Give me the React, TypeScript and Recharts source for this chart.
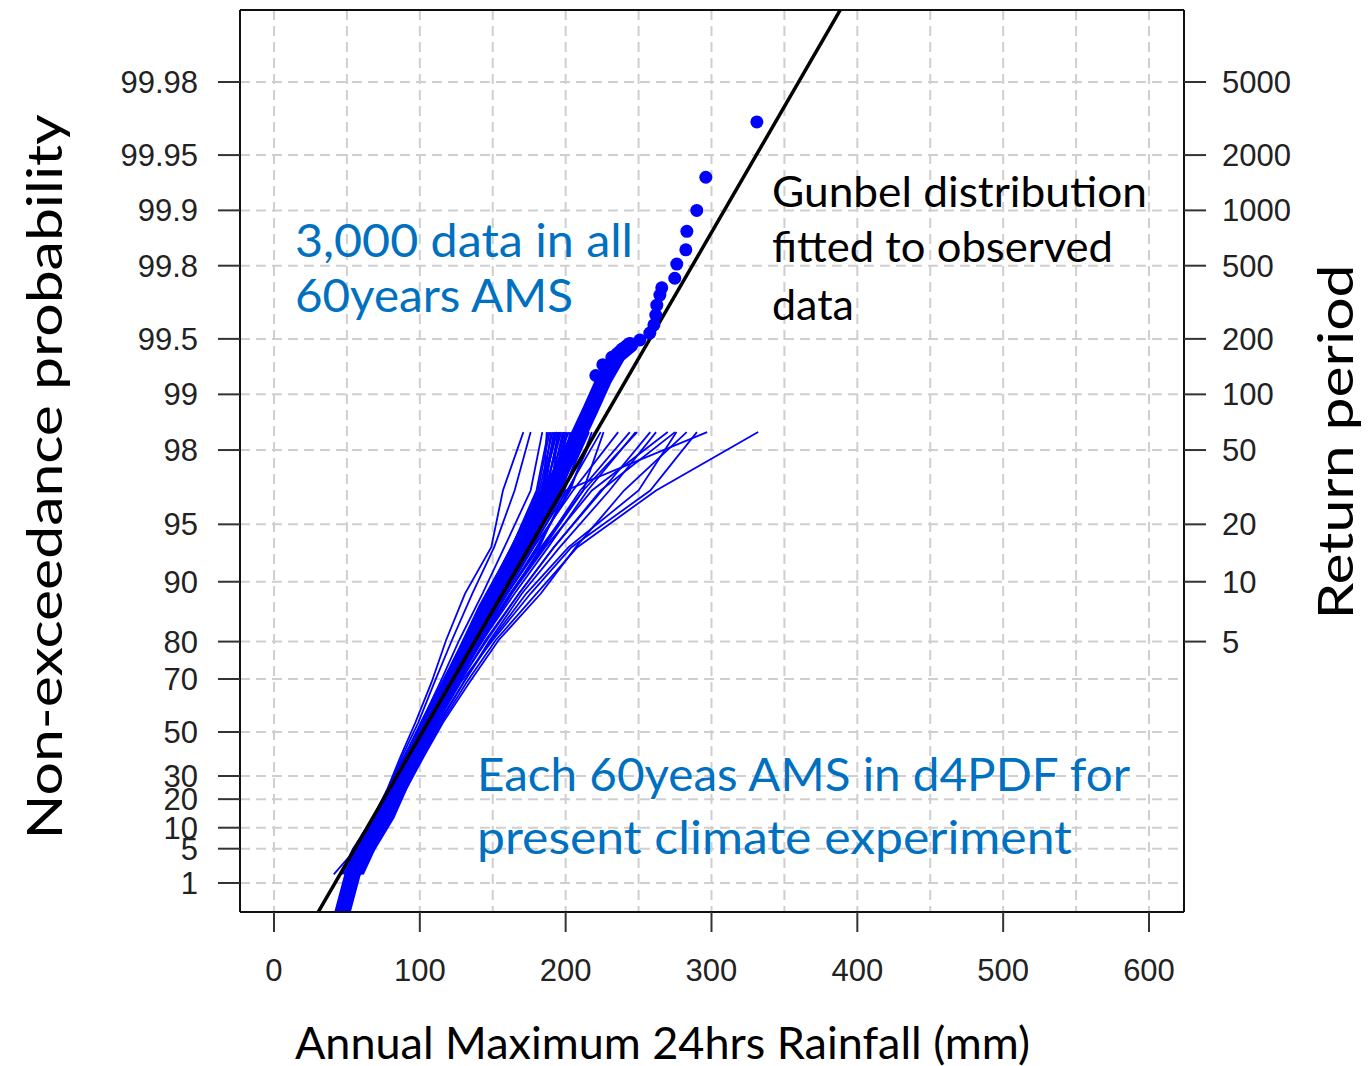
import React from 'react';
import { ComposedChart, Line, Scatter, XAxis, YAxis, CartesianGrid, ReferenceLine } from 'recharts';

// probability paper: non-exceedance % (left) and return period in years (right)
const probTicks = [1, 5, 10, 20, 30, 50, 70, 80, 90, 95, 98, 99, 99.5, 99.8, 99.9, 99.95, 99.98];
const returnTicks = [5, 10, 20, 50, 100, 200, 500, 1000, 2000, 5000];
const rainTicks = [0, 100, 200, 300, 400, 500, 600];
const rainGrid = [0, 50, 100, 150, 200, 250, 300, 350, 400, 450, 500, 550, 600];

// plotting positions (%) shared by every 60-year AMS member
const amsProbs = [1.6, 4.9, 13.1, 24.6, 39.3, 54.1, 68.9, 80.3, 88.5, 93.4, 96.7, 98.4];

// rainfall (mm) of each d4PDF member at those positions
const amsMembers = [
  [52, 60, 72, 82, 92, 104, 118, 132, 150, 168, 184, 190],
  [55, 62, 75, 84, 95, 107, 121, 136, 155, 174, 190, 195],
  [48, 57, 70, 80, 90, 101, 114, 127, 143, 158, 176, 184],
  [58, 66, 79, 88, 99, 111, 126, 142, 162, 185, 212, 226],
  [50, 59, 73, 83, 94, 106, 120, 137, 158, 178, 205, 236],
  [56, 64, 77, 86, 97, 109, 123, 139, 158, 177, 196, 203],
  [53, 61, 74, 84, 94, 105, 119, 134, 152, 170, 189, 198],
  [60, 68, 81, 90, 101, 113, 130, 148, 170, 196, 230, 262],
  [46, 54, 68, 78, 87, 97, 108, 118, 131, 149, 157, 171],
  [54, 63, 76, 86, 97, 110, 127, 146, 168, 192, 224, 275],
  [57, 65, 78, 87, 97, 108, 121, 135, 153, 172, 192, 200],
  [51, 60, 73, 83, 94, 106, 122, 140, 160, 181, 202, 220],
  [41, 56, 71, 81, 91, 102, 116, 131, 149, 166, 186, 196],
  [59, 67, 80, 89, 100, 112, 128, 150, 176, 204, 258, 290],
  [55, 63, 76, 85, 96, 108, 124, 143, 165, 188, 215, 248],
  [47, 55, 69, 79, 88, 99, 110, 122, 136, 151, 165, 176],
  [56, 64, 77, 86, 96, 107, 119, 133, 150, 168, 186, 192],
  [52, 61, 74, 84, 95, 107, 123, 141, 162, 184, 210, 244],
  [61, 69, 82, 91, 102, 115, 132, 152, 180, 208, 262, 332],
  [54, 62, 75, 85, 95, 106, 120, 135, 153, 172, 192, 201],
  [50, 58, 72, 82, 92, 104, 117, 132, 150, 169, 188, 199],
  [57, 65, 78, 88, 99, 111, 127, 145, 168, 192, 225, 258],
  [53, 61, 74, 83, 93, 104, 116, 130, 146, 163, 180, 188],
  [60, 68, 81, 91, 103, 116, 134, 154, 183, 207, 240, 283],
  [55, 63, 76, 86, 97, 109, 125, 143, 163, 186, 218, 270],
  [51, 59, 72, 82, 93, 104, 118, 132, 149, 166, 184, 194],
  [56, 64, 77, 87, 98, 110, 124, 140, 160, 182, 200, 297],
  [59, 67, 80, 90, 101, 114, 130, 149, 173, 202, 250, 276],
  [53, 61, 74, 84, 94, 106, 121, 137, 155, 174, 185, 187],
  [57, 65, 79, 88, 99, 111, 126, 143, 163, 183, 212, 249],
  [54, 62, 74, 84, 95, 106, 120, 135, 152, 170, 190, 205],
  [52, 60, 73, 83, 94, 105, 118, 132, 148, 165, 183, 193],
  [56, 63, 76, 86, 97, 108, 122, 138, 156, 175, 196, 210],
  [50, 58, 71, 81, 92, 103, 116, 130, 146, 163, 181, 189],
  [55, 62, 75, 85, 96, 107, 121, 136, 154, 173, 193, 207],
  [53, 61, 74, 83, 93, 104, 117, 131, 147, 164, 182, 191],
  [57, 64, 77, 87, 98, 109, 124, 140, 159, 178, 199, 214],
  [51, 59, 72, 82, 92, 103, 117, 131, 147, 165, 186, 197],
  [54, 61, 74, 84, 95, 106, 119, 134, 151, 169, 188, 202],
  [56, 63, 75, 85, 96, 108, 123, 139, 157, 176, 197, 212],
  [52, 60, 73, 82, 93, 104, 118, 133, 150, 168, 187, 195],
  [55, 63, 76, 85, 96, 107, 120, 135, 152, 171, 191, 206],
  [53, 60, 73, 83, 94, 105, 119, 134, 151, 170, 191, 199],
  [58, 65, 78, 88, 99, 110, 125, 141, 160, 180, 203, 218],
  [50, 58, 72, 82, 93, 104, 118, 133, 150, 167, 185, 192],
  [54, 62, 75, 84, 94, 105, 118, 132, 148, 166, 184, 194],
  [56, 64, 76, 86, 97, 108, 122, 137, 155, 174, 195, 204],
  [52, 59, 72, 82, 93, 105, 119, 135, 153, 172, 193, 209],
  [57, 64, 77, 86, 96, 107, 121, 137, 156, 176, 198, 216],
  [53, 61, 73, 83, 94, 106, 121, 138, 157, 177, 201, 224],
];

// dense part of the pooled 3,000 values
const pooledRain = [45, 54, 64, 77, 86, 97, 107, 118, 132, 145, 160, 174, 190, 204, 217, 226, 236, 244];
const pooledProb = [0.05, 1.64, 6.8, 15.8, 28.2, 42.0, 55.1, 66.4, 78.1, 86.1, 91.3, 94.6, 96.7, 98.0, 98.79, 99.16, 99.39, 99.46];

// largest pooled values, one dot each
const tailRain = [220.7, 225.5, 231.7, 238.5, 245.4, 250.9, 257.7, 260.5, 261.8, 262.5, 264.6, 265.9, 274.8, 276.2, 282.4, 283.1, 289.9, 296.1, 331.1];
const tailProb = [99.21, 99.31, 99.37, 99.43, 99.46, 99.493, 99.535, 99.58, 99.629, 99.672, 99.711, 99.736, 99.766, 99.804, 99.836, 99.87, 99.9, 99.934, 99.967];

// Gumbel line fitted to observed data (end points)
const fitRain = [26, 400];
const fitProb = [0.05, 99.9944];

// reduced variate of the Gumbel paper
const gumbel = (p: number) => -Math.log(-Math.log(p / 100));

const Y_DOMAIN: [number, number] = [-1.891, 9.42];
const X_DOMAIN: [number, number] = [-23.3, 624];

const leftPos = probTicks.map(gumbel);
const rightPos = returnTicks.map((t) => gumbel(100 * (1 - 1 / t)));

const toPoints = (xs: number[], ps: number[]) => xs.map((x, i) => ({ x, y: gumbel(ps[i]) }));

const memberData = amsMembers.map((m) => toPoints(m, amsProbs));
const pooledData = toPoints(pooledRain, pooledProb);
const tailData = toPoints(tailRain, tailProb);
const fitData = toPoints(fitRain, fitProb);

const labelFor = (positions: number[], labels: number[]) => (v: number) => {
  const i = positions.findIndex((t) => Math.abs(t - v) < 1e-9);
  return i >= 0 ? String(labels[i]) : '';
};

const tickStyle = { fill: '#222', fontSize: 31, fontFamily: '"Liberation Sans", Arial, sans-serif' };
const axisStroke = { stroke: '#111', strokeWidth: 2 };
const tickStroke = { stroke: '#333', strokeWidth: 2 };

const BLUE = '#0000ff';
const TEXT_BLUE = '#0070c0';

const Dot = (props: any) => <circle cx={props.cx} cy={props.cy} r={6.5} fill={BLUE} />;

const App: React.FC = () => {
  return (
    <div style={{ position: 'absolute', left: 0, top: 0, width: 1372, height: 1066, background: '#fff', fontFamily: 'Lato, sans-serif' }}>
      <ComposedChart width={1372} height={1066} margin={{ top: 10, right: 48, bottom: 74, left: 100 }}>
        <CartesianGrid xAxisId="grid" stroke="#cfcfcf" strokeWidth={2} strokeDasharray="10 6" />
        <XAxis
          xAxisId="grid"
          type="number"
          dataKey="x"
          domain={X_DOMAIN}
          allowDataOverflow
          ticks={rainGrid}
          hide
        />
        <XAxis
          type="number"
          dataKey="x"
          domain={X_DOMAIN}
          allowDataOverflow
          ticks={rainTicks}
          interval={0}
          height={80}
          tick={tickStyle}
          tickSize={20}
          tickMargin={27}
          axisLine={axisStroke}
          tickLine={tickStroke}
        />
        <YAxis
          type="number"
          dataKey="y"
          domain={Y_DOMAIN}
          allowDataOverflow
          ticks={leftPos}
          interval={0}
          width={140}
          tick={tickStyle}
          tickSize={22}
          tickMargin={20}
          tickFormatter={labelFor(leftPos, probTicks)}
          axisLine={axisStroke}
          tickLine={tickStroke}
        />
        <YAxis
          yAxisId="right"
          orientation="right"
          type="number"
          domain={Y_DOMAIN}
          allowDataOverflow
          ticks={rightPos}
          interval={0}
          width={140}
          tick={tickStyle}
          tickSize={22}
          tickMargin={16}
          tickFormatter={labelFor(rightPos, returnTicks)}
          axisLine={axisStroke}
          tickLine={tickStroke}
        />
        <ReferenceLine y={Y_DOMAIN[1]} stroke="#111" strokeWidth={2} />

        {memberData.map((d, i) => (
          <Line
            key={'ams' + i}
            data={d}
            dataKey="y"
            type="linear"
            stroke={BLUE}
            strokeWidth={1.8}
            dot={false}
            activeDot={false}
            isAnimationActive={false}
          />
        ))}
        <Line
          data={pooledData}
          dataKey="y"
          type="linear"
          stroke={BLUE}
          strokeWidth={16}
          strokeLinecap="round"
          strokeLinejoin="round"
          dot={false}
          activeDot={false}
          isAnimationActive={false}
        />
        <Scatter data={tailData} dataKey="y" fill={BLUE} shape={Dot} isAnimationActive={false} />
        <Line
          data={fitData}
          dataKey="y"
          type="linear"
          stroke="#000"
          strokeWidth={3.5}
          dot={false}
          activeDot={false}
          isAnimationActive={false}
        />
      </ComposedChart>

      <svg width={1372} height={1066} style={{ position: 'absolute', left: 0, top: 0, pointerEvents: 'none' }}>
        <g fontFamily="Lato, sans-serif">
          <text transform="translate(62,477) rotate(-90)" textAnchor="middle" fontSize={48} fill="#000" textLength={725} lengthAdjust="spacingAndGlyphs">
            Non-exceedance probability
          </text>
          <text transform="translate(1353,442) rotate(-90)" textAnchor="middle" fontSize={48} fill="#000" textLength={355} lengthAdjust="spacingAndGlyphs">
            Return period
          </text>
          <text x={295} y={1059} fontSize={44} fill="#000" textLength={735} lengthAdjust="spacingAndGlyphs">
            Annual Maximum 24hrs Rainfall (mm)
          </text>

          <text x={295} y={257} fontSize={46} fill={TEXT_BLUE} textLength={338} lengthAdjust="spacingAndGlyphs">
            3,000 data in all
          </text>
          <text x={295} y={312} fontSize={46} fill={TEXT_BLUE} textLength={278} lengthAdjust="spacingAndGlyphs">
            60years AMS
          </text>

          <text x={772} y={207} fontSize={42} fill="#000" textLength={375} lengthAdjust="spacingAndGlyphs">
            Gunbel distribution
          </text>
          <text x={772} y={262} fontSize={42} fill="#000" textLength={341} lengthAdjust="spacingAndGlyphs">
            fitted to observed
          </text>
          <text x={772} y={320} fontSize={42} fill="#000" textLength={82} lengthAdjust="spacingAndGlyphs">
            data
          </text>

          <text x={477} y={791} fontSize={46} fill={TEXT_BLUE} textLength={653} lengthAdjust="spacingAndGlyphs">
            Each 60yeas AMS in d4PDF for
          </text>
          <text x={477} y={854} fontSize={46} fill={TEXT_BLUE} textLength={595} lengthAdjust="spacingAndGlyphs">
            present climate experiment
          </text>
        </g>
      </svg>
    </div>
  );
};

export default App;
